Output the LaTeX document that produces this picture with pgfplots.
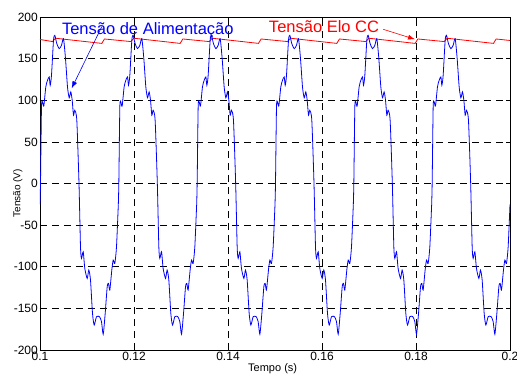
\documentclass[border=0pt]{standalone}
\usepackage{pgfplots}
\pgfplotsset{compat=1.18}
\usepackage{pgfplotstable}
\usepackage{fontspec}
\setmainfont{Liberation Sans}
\usetikzlibrary{arrows.meta}

% one period of the supply voltage (t in ms from the start of the cycle)
\pgfplotstableread{
t v
0 -25
0.106 0
0.319 92
0.532 98
0.809 93
1.234 116
1.596 124
1.957 128
2.170 118
2.447 130
2.872 172
3.149 178
3.574 168
4.085 162
4.574 166
5.000 174
5.426 150
5.851 116
6.213 103
6.553 110
6.851 100
7.128 82
7.404 88
7.830 76
8.298 0
8.617 -76
8.830 -90
9.192 -82
9.532 -102
10.043 -114
10.383 -104
10.745 -116
11.170 -156
11.532 -170
12.021 -160
12.660 -160
13.085 -166
13.447 -181
13.872 -156
14.298 -124
14.574 -120
14.851 -128
15.277 -104
15.574 -92
15.915 -96
16.277 -76
16.667 -25
}\period

\begin{document}
\begin{tikzpicture}
\useasboundingbox (-40pt,-26pt) rectangle (477pt,350pt);
\begin{axis}[
  at={(0pt,0pt)}, anchor=south west,
  scale only axis, width=470pt, height=333pt,
  xmin=0.1, xmax=0.2, ymin=-200, ymax=200,
  xtick={0.1,0.12,0.14,0.16,0.18,0.2},
  xticklabels={0.1,0.12,0.14,0.16,0.18,0.2},
  ytick={-200,-150,-100,-50,0,50,100,150,200},
  /pgf/number format/assume math mode=true,
  tick label style={font=\fontsize{12}{14}\selectfont},
  xticklabel style={inner sep=2pt},
  yticklabel style={inner sep=2pt},
  grid=major,
  major grid style={black, dash pattern=on 7pt off 5pt, line width=0.6pt},
  tick align=inside, major tick length=4pt,
  tick style={black, line width=0.6pt},
  axis line style={line width=0.8pt},
  xlabel={Tempo (s)}, ylabel={Tensão (V)},
  xlabel style={font=\fontsize{11}{13}\selectfont, at={(axis description cs:0.495,0)}, anchor=north, inner sep=0pt, yshift=-13pt},
  ylabel style={font=\fontsize{10}{12}\selectfont, at={(axis description cs:-0.047,0.471)}, anchor=center, inner sep=0pt},
]
\addplot[red, line width=0.8pt] coordinates {
(0.1,173.0) (0.10266,170.5) (0.10330,174.5) (0.11315,168.3) (0.11372,173.6)
(0.11933,170.5) (0.11997,174.5) (0.12982,168.3) (0.13039,173.6)
(0.13599,170.5) (0.13663,174.5) (0.14648,168.3) (0.14705,173.6)
(0.15266,170.5) (0.15330,174.5) (0.16315,168.3) (0.16372,173.6)
(0.16933,170.5) (0.16997,174.5) (0.17982,168.3) (0.18039,173.6)
(0.18599,170.5) (0.18663,174.5) (0.19648,168.3) (0.19705,173.6)
(0.2,171.8)
};
\pgfplotsinvokeforeach{0,1,2,3,4,5}{
  \addplot[blue, line width=0.8pt, smooth, tension=0.4] table[x expr={0.1+#1/60+\thisrow{t}/1000}, y=v] {\period};
}
\node[text=blue, font=\fontsize{16.5}{18}\selectfont, anchor=base, inner sep=0pt] at (axis cs:0.12294,178.4) {Tensão de Alimentação};
\draw[blue, line width=0.6pt, -{Latex[length=7pt,width=5pt]}] (axis cs:0.11313,188.3) -- (axis cs:0.10674,114.4);
\node[text=red, font=\fontsize{16.5}{18}\selectfont, anchor=base, inner sep=0pt] at (axis cs:0.16043,181.6) {Tensão Elo CC};
\draw[red, line width=0.6pt, -{Latex[length=7pt,width=5pt]}] (axis cs:0.17304,185.2) -- (axis cs:0.17979,173.2);
\end{axis}
\end{tikzpicture}
\end{document}
